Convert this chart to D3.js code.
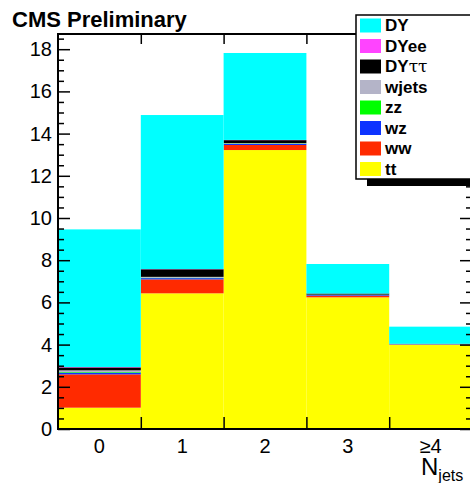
<!DOCTYPE html>
<html>
<head>
<meta charset="utf-8">
<script src="https://cdn.jsdelivr.net/npm/d3@7"></script>
<style>
  body { margin: 0; background: #fff; }
  svg { display: block; font-family: "Liberation Sans", Arial, Helvetica, sans-serif; }
</style>
</head>
<body>
<div id="chart"></div>
<script>
// jet multiplicity bins
const bins = ['0', '1', '2', '3', '\u22654'];

// stacked samples, bottom to top
const tt    = [1.01, 6.43, 13.22, 6.24, 4.00];
const ww    = [1.58, 0.66, 0.24, 0.08, 0.01];
const wz    = [0.08, 0.06, 0.05, 0.03, 0.02];
const zz    = [0.03, 0.02, 0.02, 0.01, 0.00];
const wjets = [0.08, 0.04, 0.02, 0.01, 0.00];
const DYtt  = [0.14, 0.36, 0.14, 0.05, 0.01];
const DYee  = [0.02, 0.01, 0.01, 0.00, 0.00];
const DY    = [6.52, 7.30, 4.12, 1.40, 0.81];

const samples = [
  { key: 'tt', values: tt, color: '#ffff00' },
  { key: 'ww', values: ww, color: '#ff2a00' },
  { key: 'wz', values: wz, color: '#0d33ff' },
  { key: 'zz', values: zz, color: '#00ff00' },
  { key: 'wjets', values: wjets, color: '#b4b4c8' },
  { key: 'DYtt', values: DYtt, color: '#000000' },
  { key: 'DYee', values: DYee, color: '#ff44ff' },
  { key: 'DY', values: DY, color: '#00ffff' }
];
const legendOrder = ['DY', 'DYee', 'DYtt', 'wjets', 'zz', 'wz', 'ww', 'tt'];
const yTicks = [0, 2, 4, 6, 8, 10, 12, 14, 16, 18];

const W = 470, H = 483;
const pLeft = 58, pRight = 472, pTop = 34, pBottom = 429;

const svg = d3.select('#chart').append('svg')
  .attr('width', W)
  .attr('height', H);

const x = d3.scaleBand().domain(bins).range([pLeft, pRight]).padding(0);
const xEdge = d3.scaleLinear().domain([0, bins.length]).range([pLeft, pRight]);
const y = d3.scaleLinear().domain([0, 18.72]).range([pBottom, pTop]);

const table = bins.map((b, i) => {
  const row = { bin: b };
  samples.forEach(s => { row[s.key] = s.values[i]; });
  return row;
});
const stack = d3.stack().keys(samples.map(s => s.key));
const layers = stack(table);
const colorOf = {};
samples.forEach(s => { colorOf[s.key] = s.color; });

svg.append('g').selectAll('g')
  .data(layers)
  .join('g')
    .attr('fill', d => colorOf[d.key])
  .selectAll('rect')
  .data(d => d)
  .join('rect')
    .attr('x', d => x(d.data.bin))
    .attr('width', x.bandwidth())
    .attr('y', d => y(d[1]))
    .attr('height', d => Math.max(0, y(d[0]) - y(d[1])));

// minor ticks every 0.5
const minor = d3.range(0, 18.6, 0.5).filter(v => v % 2 !== 0);

function styleAxis(g) {
  g.select('.domain').remove();
  g.selectAll('.tick line').attr('stroke', '#000').attr('stroke-width', 1.5);
  g.selectAll('.tick text').attr('font-size', 20).attr('fill', '#000')
    .attr('font-family', '"Liberation Sans", Arial, sans-serif');
}

svg.append('g')
  .attr('transform', `translate(${pLeft},0)`)
  .call(d3.axisLeft(y).tickValues(yTicks).tickSize(-12).tickPadding(6).tickFormat(d3.format('d')))
  .call(styleAxis);
svg.append('g')
  .attr('transform', `translate(${pLeft},0)`)
  .call(d3.axisLeft(y).tickValues(minor).tickSize(-6).tickFormat(''))
  .call(styleAxis);
svg.append('g')
  .attr('transform', `translate(${pRight},0)`)
  .call(d3.axisRight(y).tickValues(yTicks).tickSize(-12).tickFormat(''))
  .call(styleAxis);
svg.append('g')
  .attr('transform', `translate(${pRight},0)`)
  .call(d3.axisRight(y).tickValues(minor).tickSize(-6).tickFormat(''))
  .call(styleAxis);

svg.append('g')
  .attr('transform', `translate(0,${pBottom})`)
  .call(d3.axisBottom(xEdge).tickValues([1, 2, 3, 4]).tickSize(-12).tickFormat(''))
  .call(styleAxis);
svg.append('g')
  .attr('transform', `translate(0,${pTop})`)
  .call(d3.axisTop(xEdge).tickValues([1, 2, 3, 4]).tickSize(-10).tickFormat(''))
  .call(styleAxis);
svg.append('g')
  .attr('transform', `translate(0,${pBottom})`)
  .call(d3.axisBottom(x).tickSize(0).tickPadding(10))
  .call(styleAxis);

// frame
svg.append('rect')
  .attr('x', pLeft).attr('y', pTop)
  .attr('width', pRight - pLeft).attr('height', pBottom - pTop)
  .attr('fill', 'none').attr('stroke', '#000').attr('stroke-width', 2);

// axis title
const xt = svg.append('text')
  .attr('x', 421).attr('y', 475)
  .attr('font-size', 24).attr('fill', '#000');
xt.append('tspan').text('N');
xt.append('tspan').attr('font-size', 16).attr('dy', 6).text('jets');

// title
svg.append('text')
  .attr('x', 12).attr('y', 27)
  .attr('font-size', 22).attr('font-weight', 'bold')
  .text('CMS Preliminary');

// legend
const leg = svg.append('g');
leg.append('rect')
  .attr('x', 367).attr('y', 22).attr('width', 120).attr('height', 164)
  .attr('fill', '#000');
leg.append('rect')
  .attr('x', 356).attr('y', 15).attr('width', 130).attr('height', 164)
  .attr('fill', '#fff').attr('stroke', '#000').attr('stroke-width', 1.5);

const rowH = 20.5;
legendOrder.forEach((k, i) => {
  const yy = 18.5 + i * rowH;
  leg.append('rect')
    .attr('x', 360).attr('y', yy)
    .attr('width', 21).attr('height', 14)
    .attr('fill', colorOf[k]);
  const t = leg.append('text')
    .attr('x', 385).attr('y', yy + 12.5)
    .attr('font-size', 17).attr('font-weight', 'bold');
  if (k === 'DYtt') {
    t.append('tspan').text('DY');
    t.append('tspan').attr('font-weight', 'normal')
      .attr('font-family', '"DejaVu Serif", "Liberation Serif", serif')
      .text('\u03c4\u03c4');
  } else {
    t.text(k);
  }
});
</script>
</body>
</html>
